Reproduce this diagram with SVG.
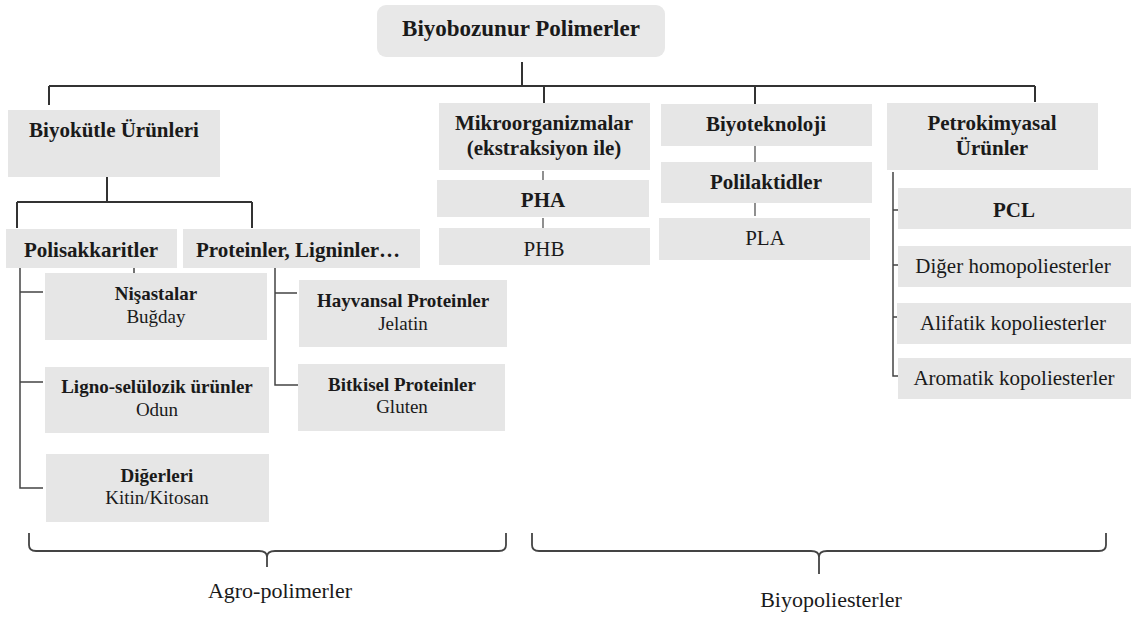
<svg xmlns="http://www.w3.org/2000/svg" width="1131" height="619" viewBox="0 0 1131 619">
<style>
  .box { fill: #e6e6e6; }
  .t { font-family: "Liberation Serif", "Times New Roman", serif; fill: #1a1a1a; text-anchor: middle; }
  .b21 { font-weight: bold; font-size: 21px; }
  .b19 { font-weight: bold; font-size: 19px; }
  .r19 { font-size: 19px; }
  .r21 { font-size: 21px; }
  .r22 { font-size: 22px; }
  .ln { fill: none; stroke: #333; stroke-width: 2; }
  .thin { fill: none; stroke: #444; stroke-width: 1.5; }
  .tick { fill: none; stroke: #555; stroke-width: 1.3; }
  .brace { fill: none; stroke: #444; stroke-width: 1.8; }
</style>
<rect width="1131" height="619" fill="#ffffff"/>

<g id="connectors">
  <path class="ln" d="M522,62 V86 M49,86 H1035 M49,86 V105 M544,86 V105 M755,86 V104 M1035,86 V102"/>
  <path class="ln" d="M107,177 V202 M17,202 H252 M17,202 V228 M252,202 V228"/>
  <path class="thin" d="M134,253 V274"/>
  <path class="thin" d="M20,268 V488 H43 M20,292 H43 M20,382 H43"/>
  <path class="thin" d="M275,268 V385 H302 M275,293 H297"/>
  <path class="tick" d="M543,171 V180 M543,218 V228 M755,146 V162 M755,201 V216"/>
  <path class="thin" d="M893,172 V376 H900 M893,210 H898 M893,265 H898 M893,317 H898"/>
</g>

<g id="title">
  <rect x="377" y="5" width="288" height="52" rx="9" fill="#e8e8e8"/>
  <text class="t" x="521" y="36" font-weight="bold" font-size="23">Biyobozunur Polimerler</text>
</g>

<g id="biyokutle">
  <rect class="box" x="8" y="110" width="212" height="67"/>
  <text class="t b21" x="114" y="137">Biyokütle Ürünleri</text>
</g>
<g id="mikro">
  <rect class="box" x="439" y="103" width="211" height="67"/>
  <text class="t b21" x="544" y="130">Mikroorganizmalar</text>
  <text class="t b21" x="544" y="155">(ekstraksiyon ile)</text>
</g>
<g id="biyotek">
  <rect class="box" x="661" y="104" width="211" height="42"/>
  <text class="t b21" x="766" y="131">Biyoteknoloji</text>
</g>
<g id="petro">
  <rect class="box" x="887" y="103" width="211" height="67"/>
  <text class="t b21" x="992" y="130">Petrokimyasal</text>
  <text class="t b21" x="992" y="155">Ürünler</text>
</g>

<g id="pha">
  <rect class="box" x="437" y="180" width="212" height="37"/>
  <text class="t b21" x="543" y="207">PHA</text>
</g>
<g id="phb">
  <rect class="box" x="439" y="228" width="211" height="37"/>
  <text class="t r21" x="544" y="256">PHB</text>
</g>
<g id="polilaktid">
  <rect class="box" x="661" y="162" width="211" height="41"/>
  <text class="t b21" x="766" y="189">Polilaktidler</text>
</g>
<g id="pla">
  <rect class="box" x="659" y="218" width="211" height="42"/>
  <text class="t r21" x="765" y="245">PLA</text>
</g>

<g id="pcl">
  <rect class="box" x="898" y="188" width="233" height="41"/>
  <text class="t b21" x="1014" y="217">PCL</text>
</g>
<g id="diger-homo">
  <rect class="box" x="898" y="246" width="233" height="41"/>
  <text class="t r21" x="1013" y="273">Diğer homopoliesterler</text>
</g>
<g id="alifatik">
  <rect class="box" x="897" y="303" width="234" height="41"/>
  <text class="t r21" x="1013" y="330">Alifatik kopoliesterler</text>
</g>
<g id="aromatik">
  <rect class="box" x="898" y="358" width="233" height="41"/>
  <text class="t r21" x="1014" y="385">Aromatik kopoliesterler</text>
</g>

<g id="polisakkarit">
  <rect class="box" x="6" y="229" width="171" height="39"/>
  <text class="t b21" x="91" y="257">Polisakkaritler</text>
</g>
<g id="proteinler">
  <rect class="box" x="183" y="229" width="237" height="39"/>
  <text class="t b21" x="298" y="257">Proteinler, Ligninler…</text>
</g>

<g id="nisasta">
  <rect class="box" x="45" y="273" width="222" height="67"/>
  <text class="t b19" x="156" y="300">Nişastalar</text>
  <text class="t r19" x="156" y="323">Buğday</text>
</g>
<g id="ligno">
  <rect class="box" x="45" y="367" width="224" height="66"/>
  <text class="t b19" x="157" y="393">Ligno-selülozik ürünler</text>
  <text class="t r19" x="157" y="416">Odun</text>
</g>
<g id="digerleri">
  <rect class="box" x="46" y="454" width="223" height="68"/>
  <text class="t b19" x="157" y="482">Diğerleri</text>
  <text class="t r19" x="157" y="504">Kitin/Kitosan</text>
</g>
<g id="hayvansal">
  <rect class="box" x="299" y="280" width="208" height="67"/>
  <text class="t b19" x="403" y="307">Hayvansal Proteinler</text>
  <text class="t r19" x="403" y="330">Jelatin</text>
</g>
<g id="bitkisel">
  <rect class="box" x="298" y="364" width="207" height="67"/>
  <text class="t b19" x="402" y="391">Bitkisel Proteinler</text>
  <text class="t r19" x="402" y="413">Gluten</text>
</g>

<g id="agro-brace">
  <path class="brace" d="M29,533 V545 Q29,551 36,551 H259 Q267,551 267,557 Q267,551 275,551 H499 Q506,551 506,545 V533 M267,556 V567"/>
  <text class="t r22" x="280" y="598">Agro-polimerler</text>
</g>
<g id="biyo-brace">
  <path class="brace" d="M532,533 V545 Q532,551 539,551 H811 Q819,551 819,557 Q819,551 827,551 H1099 Q1106,551 1106,545 V533 M819,556 V574"/>
  <text class="t r22" x="831" y="607">Biyopoliesterler</text>
</g>
</svg>
